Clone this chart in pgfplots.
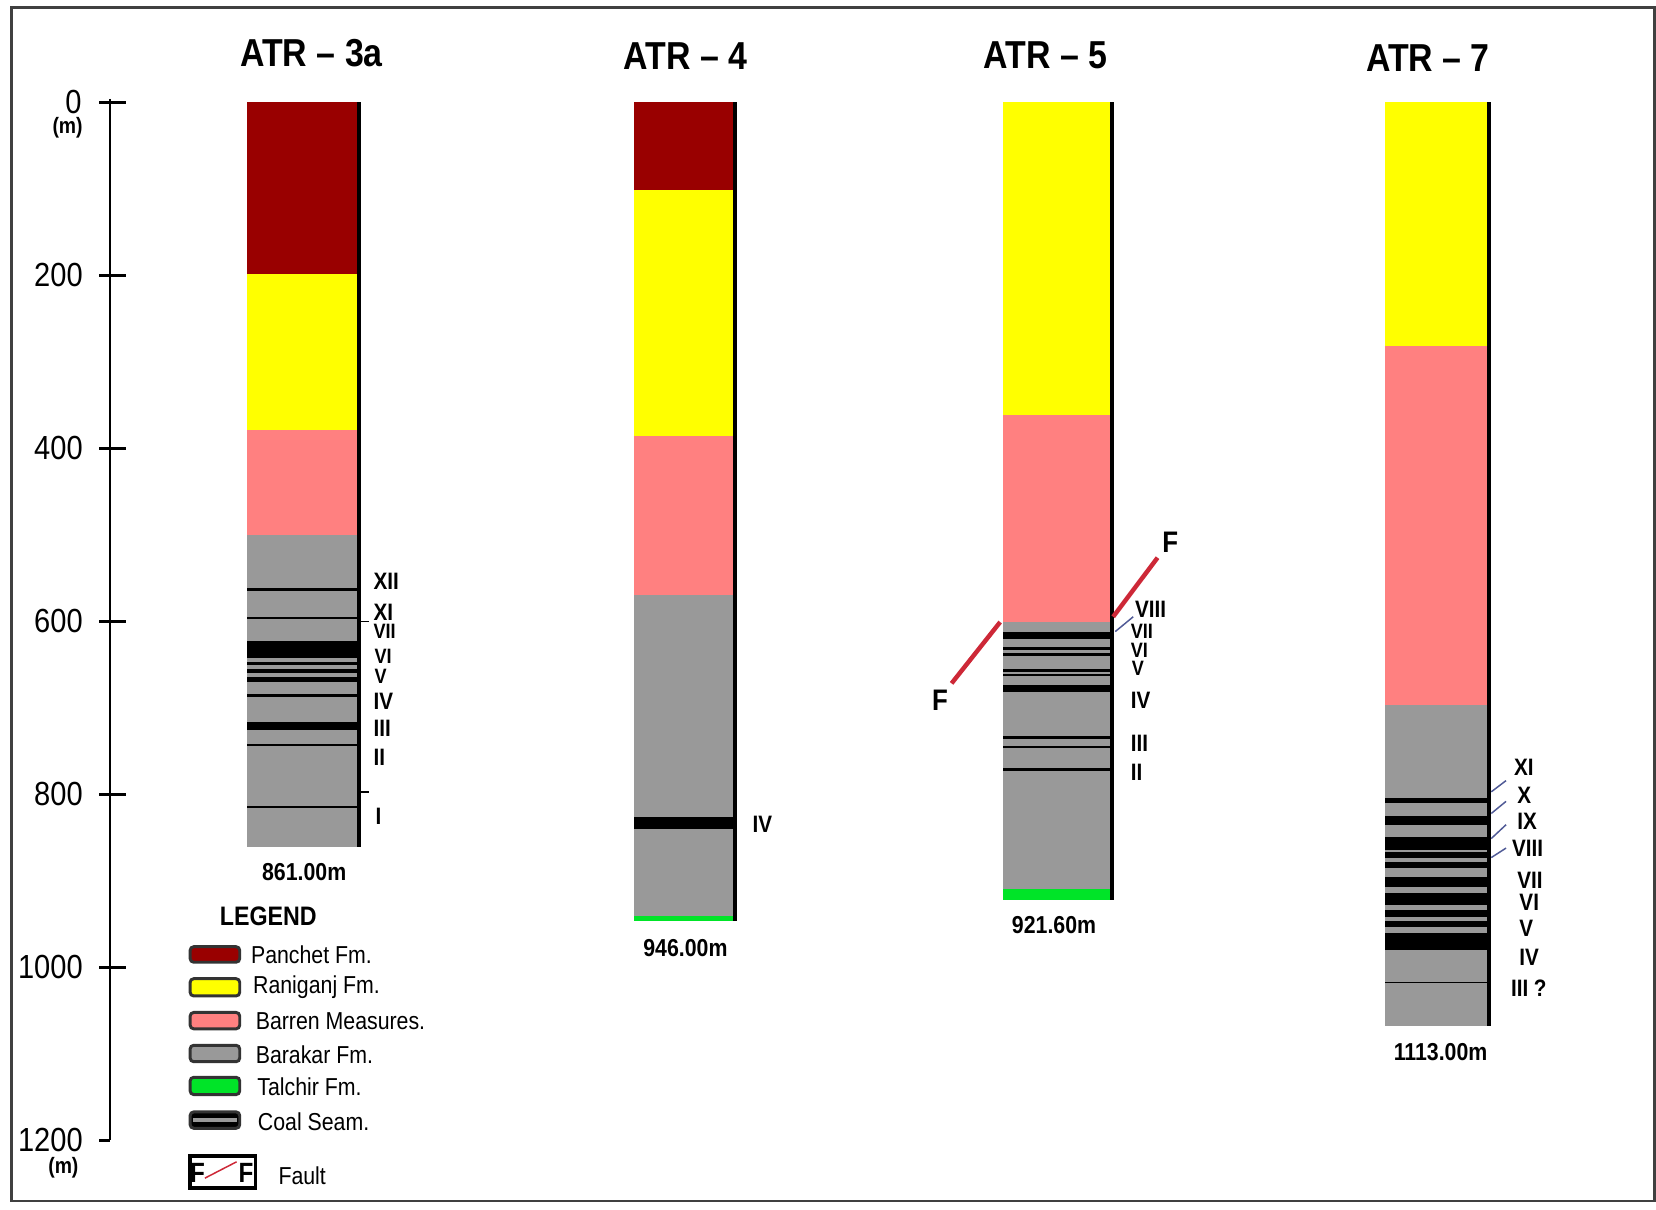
\documentclass[border=0pt]{standalone}
\usepackage{pgfplots}
\pgfplotsset{compat=1.18}
\usepackage{fontspec}
\setmainfont{Liberation Sans}[FakeStretch=0.87]
\newfontfamily\nf{Liberation Sans}[FakeStretch=0.87]
\definecolor{panchet}{RGB}{153,0,0}
\definecolor{raniganj}{RGB}{255,255,0}
\definecolor{barren}{RGB}{255,128,128}
\definecolor{barakar}{RGB}{153,153,153}
\definecolor{talchir}{RGB}{0,228,40}
\definecolor{faultred}{RGB}{205,40,55}
\definecolor{leader}{RGB}{80,90,150}
% rectangle: x1 x2 top bottom colour
\newcommand{\rect}[5]{\addplot[draw=none, fill=#5, forget plot] coordinates {(#1,#3) (#2,#3) (#2,#4) (#1,#4)} -- cycle;}
\newcommand{\swatch}[5]{\addplot[draw=black!80, line width=0.8pt, fill=#5, rounded corners=1pt, forget plot] coordinates {(#1,#3) (#2,#3) (#2,#4) (#1,#4)} -- cycle;}
\newcommand{\seg}[5]{\addplot[#5, forget plot] coordinates {(#1,#2) (#3,#4)};}
\tikzset{
  ttl/.style={font=\nf\bfseries\fontsize{10.5}{12}\selectfont, inner sep=0pt},
  tick/.style={font=\nf\fontsize{9}{10}\selectfont, inner sep=0pt, anchor=east},
  seam/.style={font=\nf\bfseries\fontsize{6.4}{7}\selectfont, inner sep=0pt, anchor=west},
  seams/.style={font=\nf\bfseries\fontsize{5.6}{6}\selectfont, inner sep=0pt, anchor=west},
  dep/.style={font=\nf\bfseries\fontsize{6.6}{7}\selectfont, inner sep=0pt},
  leg/.style={font=\nf\fontsize{6.6}{7}\selectfont, inner sep=0pt, anchor=west},
  unit/.style={font=\nf\bfseries\fontsize{6}{7}\selectfont, inner sep=0pt},
}
\begin{document}
\begin{tikzpicture}
\begin{axis}[
  width=15.68cm, height=11.45cm, scale only axis,
  xmin=0, xmax=1568, ymin=-118.4, ymax=1279.6, y dir=reverse,
  hide axis, clip=false,
]
% full picture extent (invisible)
\addplot[draw=none, forget plot] coordinates {(0,-118.4) (1568,-118.4) (1568,1279.6) (0,1279.6)} -- cycle;
% frame
\addplot[draw=black!75, line width=0.8pt, forget plot] coordinates {(11,-110) (1566.5,-110) (1566.5,1270) (11,1270)} -- cycle;

% ---------------- depth axis ----------------
\addplot[black, line width=0.6pt, forget plot] coordinates {(104,-4) (104,1200)};
\seg{94}{0}{119}{0}{black, line width=0.6pt}
\seg{94}{200}{119}{200}{black, line width=0.6pt}
\seg{94}{400}{119}{400}{black, line width=0.6pt}
\seg{94}{600}{119}{600}{black, line width=0.6pt}
\seg{94}{800}{119}{800}{black, line width=0.6pt}
\seg{94}{1000}{119}{1000}{black, line width=0.6pt}
\seg{94}{1200}{104}{1200}{black, line width=0.6pt}
\node[tick] at (axis cs:78,0) {0};
\node[tick] at (axis cs:79,200) {200};
\node[tick] at (axis cs:79,400) {400};
\node[tick] at (axis cs:79,600) {600};
\node[tick] at (axis cs:79,800) {800};
\node[tick] at (axis cs:79,1000) {1000};
\node[tick] at (axis cs:79,1200) {1200};
\node[unit] at (axis cs:64,29) {(m)};
\node[unit] at (axis cs:60,1231) {(m)};

% ---------------- ATR-3a ----------------
\rect{234}{341}{0}{198}{panchet}
\rect{234}{341}{198}{379}{raniganj}
\rect{234}{341}{379}{500}{barren}
\rect{234}{341}{500}{861}{barakar}
\rect{234}{341}{561.5}{564.5}{black}
\rect{234}{341}{594.5}{597.5}{black}
\rect{234}{341}{623}{642}{black}
\rect{234}{341}{647}{650}{black}
\rect{234}{341}{654.5}{659.5}{black}
\rect{234}{341}{664.5}{669.5}{black}
\rect{234}{341}{684}{687}{black}
\rect{234}{341}{716}{725.5}{black}
\rect{234}{341}{741.5}{744.5}{black}
\rect{234}{341}{813}{816}{black}
\addplot[black, line width=0.9pt, forget plot] coordinates {(340,0) (340,861)};
\seg{340}{600}{349}{600}{black, line width=0.4pt}
\seg{340}{797}{349}{797}{black, line width=0.4pt}
\node[ttl] at (axis cs:295,-57) {ATR – 3a};
\node[dep] at (axis cs:288,890) {861.00m};
\node[seam] at (axis cs:353,554) {XII};
\node[seam] at (axis cs:353,589) {XI};
\node[seams] at (axis cs:353,611) {VII};
\node[seams] at (axis cs:354,640) {VI};
\node[seams] at (axis cs:354,663) {V};
\node[seam] at (axis cs:353,692) {IV};
\node[seam] at (axis cs:353,723) {III};
\node[seam] at (axis cs:353,757) {II};
\node[seam] at (axis cs:355,825) {I};

% ---------------- ATR-4 ----------------
\rect{600}{697}{0}{101}{panchet}
\rect{600}{697}{101}{386}{raniganj}
\rect{600}{697}{386}{569}{barren}
\rect{600}{697}{569}{940}{barakar}
\rect{600}{697}{940}{946}{talchir}
\rect{600}{697}{826}{840}{black}
\addplot[black, line width=0.9pt, forget plot] coordinates {(696,0) (696,946)};
\node[ttl] at (axis cs:649,-54) {ATR – 4};
\node[dep] at (axis cs:649,978) {946.00m};
\node[seam] at (axis cs:712,834) {IV};

% ---------------- ATR-5 ----------------
\rect{950}{1054}{0}{361}{raniganj}
\rect{950}{1054}{361}{600.5}{barren}
\rect{950}{1054}{600.5}{909}{barakar}
\rect{950}{1054}{909}{921.6}{talchir}
\rect{950}{1054}{612}{620}{black}
\rect{950}{1054}{629.5}{633}{black}
\rect{950}{1054}{636.5}{640}{black}
\rect{950}{1054}{654.5}{658.5}{black}
\rect{950}{1054}{661}{663.5}{black}
\rect{950}{1054}{673.5}{681.5}{black}
\rect{950}{1054}{733}{736}{black}
\rect{950}{1054}{744}{746.5}{black}
\rect{950}{1054}{769}{773}{black}
\addplot[black, line width=0.9pt, forget plot] coordinates {(1053,0) (1053,921.6)};
\seg{901}{671.6}{947}{600.7}{faultred, line width=1.2pt}
\seg{1054}{594.6}{1096}{526.3}{faultred, line width=1.2pt}
\seg{1056}{611.7}{1073}{594.6}{leader, line width=0.4pt}
\node[font=\nf\bfseries\fontsize{8}{9}\selectfont, inner sep=0pt] at (axis cs:890,691) {F};
\node[font=\nf\bfseries\fontsize{8}{9}\selectfont, inner sep=0pt] at (axis cs:1108,508) {F};
\node[ttl] at (axis cs:990,-54) {ATR – 5};
\node[dep] at (axis cs:998,951) {921.60m};
\node[seam] at (axis cs:1074,586) {VIII};
\node[seams] at (axis cs:1070,612) {VII};
\node[seams] at (axis cs:1070,633) {VI};
\node[seams] at (axis cs:1071,654) {V};
\node[seam] at (axis cs:1070,691) {IV};
\node[seam] at (axis cs:1070,741) {III};
\node[seam] at (axis cs:1070,775) {II};

% ---------------- ATR-7 ----------------
\rect{1311}{1411}{0}{282}{raniganj}
\rect{1311}{1411}{282}{697}{barren}
\rect{1311}{1411}{697}{1068}{barakar}
\rect{1311}{1411}{804.5}{810}{black}
\rect{1311}{1411}{825}{835.5}{black}
\rect{1311}{1411}{849}{864}{black}
\rect{1311}{1411}{866.5}{874}{black}
\rect{1311}{1411}{878}{885.5}{black}
\rect{1311}{1411}{895.5}{907}{black}
\rect{1311}{1411}{914.5}{928}{black}
\rect{1311}{1411}{934}{941.5}{black}
\rect{1311}{1411}{946}{953}{black}
\rect{1311}{1411}{960}{980}{black}
\rect{1311}{1411}{1016.5}{1018.5}{black}
\addplot[black, line width=0.9pt, forget plot] coordinates {(1410,0) (1410,1068)};
\seg{1412}{797}{1426}{784}{leader, line width=0.4pt}
\seg{1412}{822}{1426}{808}{leader, line width=0.4pt}
\seg{1412}{851}{1426}{835}{leader, line width=0.4pt}
\seg{1412}{873}{1426}{862}{leader, line width=0.4pt}
\node[ttl] at (axis cs:1352,-51) {ATR – 7};
\node[dep] at (axis cs:1364,1098) {1113.00m};
\node[seam] at (axis cs:1433,769) {XI};
\node[seam] at (axis cs:1436,801) {X};
\node[seam] at (axis cs:1436,831) {IX};
\node[seam] at (axis cs:1431,862) {VIII};
\node[seam] at (axis cs:1436,899) {VII};
\node[seam] at (axis cs:1438,925) {VI};
\node[seam] at (axis cs:1438,955) {V};
\node[seam] at (axis cs:1438,988) {IV};
\node[seam] at (axis cs:1430,1024) {III ?};

% ---------------- legend ----------------
\node[font=\nf\bfseries\fontsize{7.2}{8}\selectfont, inner sep=0pt] at (axis cs:254,941) {LEGEND};
\swatch{180}{227}{976}{994}{panchet}
\swatch{180}{227}{1013}{1033}{raniganj}
\swatch{180}{227}{1052}{1071}{barren}
\swatch{180}{227}{1090}{1109}{barakar}
\swatch{180}{227}{1127}{1147}{talchir}
\swatch{180}{227}{1167}{1186}{black}
\rect{183}{224}{1174.5}{1178.5}{barakar}
\node[leg] at (axis cs:237,985) {Panchet Fm.};
\node[leg] at (axis cs:239,1022.5) {Raniganj Fm.};
\node[leg] at (axis cs:241.5,1062) {Barren Measures.};
\node[leg] at (axis cs:241.5,1101) {Barakar Fm.};
\node[leg] at (axis cs:243,1138) {Talchir Fm.};
\node[leg] at (axis cs:243.5,1178) {Coal Seam.};
\addplot[draw=black, line width=0.9pt, fill=white, forget plot] coordinates {(180,1218) (242,1218) (242,1255) (180,1255)} -- cycle;
\seg{194}{1243.6}{224}{1224.7}{faultred, line width=0.4pt}
\node[font=\nf\bfseries\fontsize{7.5}{8}\selectfont, inner sep=0pt] at (axis cs:187,1237) {F};
\node[font=\nf\bfseries\fontsize{7.5}{8}\selectfont, inner sep=0pt] at (axis cs:233,1237) {F};
\node[leg] at (axis cs:263,1240.5) {Fault};
\end{axis}
\end{tikzpicture}
\end{document}
